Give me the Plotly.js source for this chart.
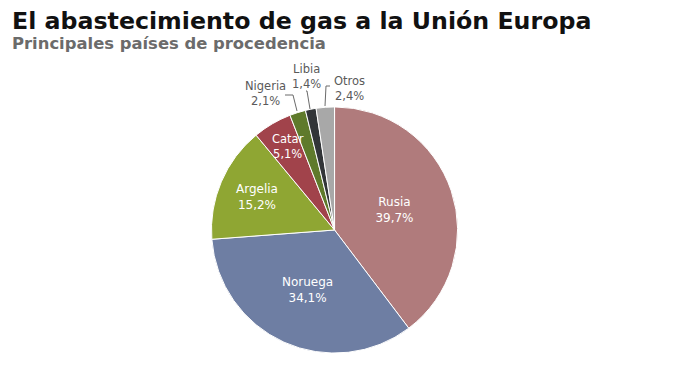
<!DOCTYPE html>
<html><head><meta charset="utf-8">
<script src="https://cdn.plot.ly/plotly-3.0.1.min.js"></script>
<style>html,body{margin:0;padding:0;background:#fff}</style>
</head><body><div id="chart" style="width:680px;height:383px"></div>
<script>
const countries = ["Rusia","Noruega","Argelia","Catar","Nigeria","Libia","Otros"];
const shares = [39.7, 34.1, 15.2, 5.1, 2.1, 1.4, 2.4];
const colors = ["#b07b7c","#6e7ea3","#8fa633","#a1434b","#5f7a2b","#323538","#a8a8a8"];
const insideShown = [true, true, true, false, false, false, false];

const fmt = v => v.toFixed(1).replace('.', ',') + '%';
const texts = countries.map((c,i) => insideShown[i] ? c + '<br>' + fmt(shares[i]) : '');
const lblFont = 'DejaVu Sans, sans-serif';

const trace = {
  type: 'pie',
  labels: countries,
  values: shares,
  text: texts,
  textinfo: 'text',
  textposition: 'inside',
  insidetextorientation: 'horizontal',
  insidetextfont: {color: '#ffffff', size: 12, family: lblFont},
  sort: false,
  direction: 'clockwise',
  rotation: 0,
  marker: {colors: colors, line: {color: '#ffffff', width: 1}},
  hoverinfo: 'none',
  showlegend: false,
  domain: {x: [0.311, 0.673], y: [0.078, 0.721]}
};

const gray = '#5a5a5a';
const annotations = [
  {text: '<b>El abastecimiento de gas a la Unión Europa</b>', x: 10/680, y: 1 - 5/383, xref: 'paper', yref: 'paper',
   xanchor: 'left', yanchor: 'top', showarrow: false, font: {size: 23.7, color: '#111', family: lblFont}},
  {text: '<b>Principales países de procedencia</b>', x: 10/680, y: 1 - 32/383, xref: 'paper', yref: 'paper',
   xanchor: 'left', yanchor: 'top', showarrow: false, font: {size: 16.4, color: '#6b6b6b', family: lblFont}},
  {text: countries[3] + '<br>' + fmt(shares[3]), x: 288, y: 146, xref: 'x', yref: 'y', showarrow: false, font: {size: 11.5, color: '#fff', family: lblFont}},
  {text: countries[4] + '<br>' + fmt(shares[4]), x: 265, y: 93, xref: 'x', yref: 'y', showarrow: false, font: {size: 11.5, color: gray, family: lblFont}},
  {text: countries[5] + '<br>' + fmt(shares[5]), x: 306, y: 76, xref: 'x', yref: 'y', showarrow: false, font: {size: 11.5, color: gray, family: lblFont}},
  {text: countries[6] + '<br>' + fmt(shares[6]), x: 349, y: 88, xref: 'x', yref: 'y', showarrow: false, font: {size: 11.5, color: gray, family: lblFont}}
];
const layout = {
  width: 680, height: 383,
  margin: {l: 0, r: 0, t: 0, b: 0},
  paper_bgcolor: '#fff',
  xaxis: {range: [0, 680], visible: false, fixedrange: true},
  yaxis: {range: [383, 0], visible: false, fixedrange: true},
  annotations: annotations,
  shapes: [
    {type: 'path', path: 'M 285 95 L 293 95 L 297 111', line: {color: '#6a6a6a', width: 1}, xref: 'x', yref: 'y'},
    {type: 'path', path: 'M 306 91 L 307 91 L 310 109', line: {color: '#6a6a6a', width: 1}, xref: 'x', yref: 'y'},
    {type: 'path', path: 'M 330 86 L 326 86 L 325 106', line: {color: '#6a6a6a', width: 1}, xref: 'x', yref: 'y'}
  ]
};
Plotly.newPlot('chart', [trace], layout, {displayModeBar: false, staticPlot: true});
</script></body></html>
